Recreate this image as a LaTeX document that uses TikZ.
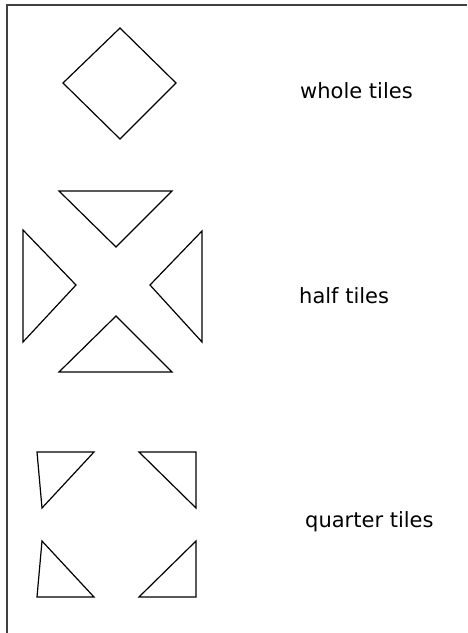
\documentclass[tikz,border=0pt]{standalone}
\usepackage{fontspec}
\setmainfont{DejaVu Sans}
\usepackage{tikz}
\tikzset{tile/.style={line width=1.2pt, line join=miter},
  label/.style={anchor=base west, inner sep=0pt, font=\fontsize{21}{24}\selectfont}}

\begin{document}
\begin{tikzpicture}[x=1pt,y=-1pt]
        \useasboundingbox (0,0) rectangle (467,633);
        \draw[line width=2pt, black!75] (467,5) -- (7,5) -- (7,633);
        % whole tile
        \draw[tile] (120,28) -- (176,83) -- (120,139) -- (63,83) -- cycle;
        % half tiles
        \draw[tile] (59,191) -- (172,191) -- (116,247) -- cycle;
        \draw[tile] (23,230) -- (76,285) -- (23,342) -- cycle;
        \draw[tile] (202,231) -- (150,285) -- (202,342) -- cycle;
        \draw[tile] (116,316) -- (172,372) -- (59,372) -- cycle;
        % quarter tiles
        \draw[tile] (37,452) -- (94,452) -- (42,508) -- cycle;
        \draw[tile] (139,452) -- (196,452) -- (196,508) -- cycle;
        \draw[tile] (42,541) -- (94,597) -- (37,597) -- cycle;
        \draw[tile] (196,541) -- (196,597) -- (139,597) -- cycle;
        \node[label] (whole) at (300,98) {whole tiles};
        \node[label] (half) at (299,303) {half tiles};
        \node[label] (quarter) at (305,527) {quarter tiles};
      \end{tikzpicture}
\end{document}
